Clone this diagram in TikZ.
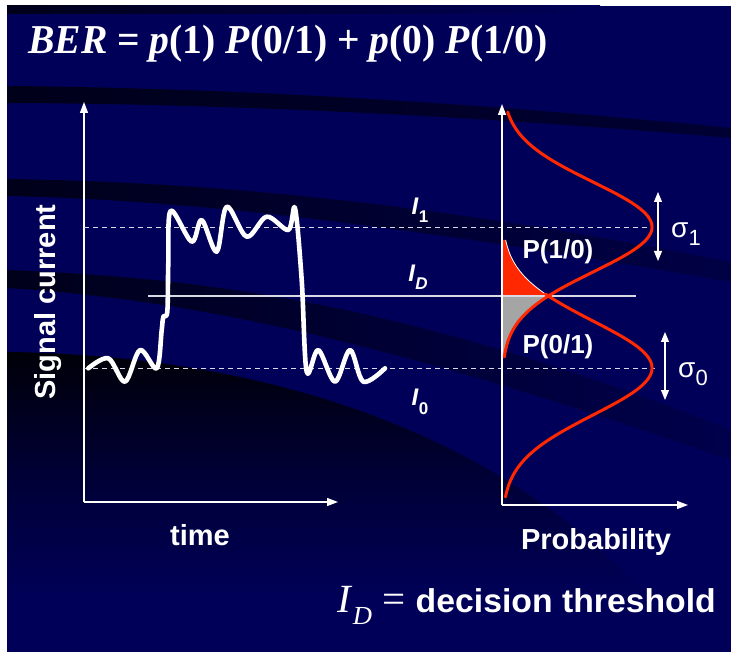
\documentclass[tikz,border=0pt]{standalone}
\usepackage{fontspec}
\usepackage{graphicx}
\setmainfont{Liberation Serif}
\setsansfont{Liberation Sans}
\usetikzlibrary{arrows.meta}
\definecolor{navy}{RGB}{0,0,88}
\definecolor{bandc}{RGB}{0,0,26}
\definecolor{curvered}{RGB}{255,40,0}
\definecolor{fillgray}{RGB}{165,165,165}
\tikzset{
  axis/.style={white, line width=1.3pt, -{Triangle[length=11pt,width=8pt]}},
  levelline/.style={white!85!navy, line width=0.9pt, dash pattern=on 5pt off 4pt},
  thresh/.style={white!85!navy, line width=1.3pt},
  sigarrow/.style={white, line width=1.1pt, {Triangle[length=10pt,width=8pt]}-{Triangle[length=10pt,width=8pt]}},
  gauss/.style={curvered, line width=3pt, line cap=round},
  lbl/.style={white, font=\sffamily\bfseries\fontsize{29}{34}\selectfont, inner sep=0pt},
  plbl/.style={white, font=\sffamily\bfseries\fontsize{26}{30}\selectfont, inner sep=0pt},
  ilbl/.style={white, font=\sffamily\bfseries\fontsize{24}{28}\selectfont, inner sep=0pt},
  slbl/.style={white, font=\sffamily\fontsize{28}{32}\selectfont, inner sep=0pt},
}
\newcommand{\sub}[2]{#1\raisebox{-0.35em}{\fontsize{17}{20}\selectfont #2}}
\newcommand{\sigsub}[2]{#1\raisebox{-0.3em}{\fontsize{22}{24}\selectfont #2}}
\begin{document}
\begin{tikzpicture}[x=1pt,y=-1pt]
\useasboundingbox (0,0) rectangle (731,652);
\fill[white] (0,0) rectangle (731,652);
\fill[navy] (7,6) rectangle (731,652);
% background decoration
\begin{scope}
\clip (7,6) rectangle (731,652);
\shade[left color=bandc, right color=navy] (7,6) rectangle (600,14);
\shade[left color=bandc, right color=navy!40!bandc] (7,86) .. controls (250,88) and (500,105) .. (731,128) -- (731,138) .. controls (500,118) and (250,104) .. (7,103) -- cycle;
\shade[left color=bandc, right color=navy!70!bandc] (7,179) .. controls (200,182) and (420,200) .. (731,262) -- (731,282) .. controls (420,228) and (200,200) .. (7,196) -- cycle;
\shade[left color=bandc, right color=navy!80!bandc] (7,270) .. controls (200,278) and (400,300) .. (731,430) -- (731,460) .. controls (400,345) and (200,300) .. (7,288) -- cycle;
\shade[top color=black!70!bandc, bottom color=navy, middle color=navy!45!bandc] (7,352) .. controls (260,355) and (500,430) .. (650,600) -- (7,600) -- cycle;
\end{scope}
% title
\node[white, anchor=base west, inner sep=0pt, font=\bfseries\fontsize{41}{48}\selectfont] (title) at (28,54)
  {\resizebox{519pt}{\height}{\textit{BER} = \textit{p}(1) \textit{P}(0/1) + \textit{p}(0) \textit{P}(1/0)}};
% left axes
\coordinate (o1) at (84,502);
\coordinate (y1) at (84,102);
\coordinate (x1) at (338,502);
\draw[axis] (o1) -- (y1);
\draw[axis] (o1) -- (x1);
% right axes
\coordinate (o2) at (502,505);
\coordinate (y2) at (502,104);
\coordinate (x2) at (688,505);
% fills
\fill[curvered] (502,240) -- plot[domain=240:296, samples=40] ({502+150*exp(-0.5*((\x-368)/47)^2)}, \x) -- (502,296) -- cycle;
\draw[white, line width=0.8pt] plot[domain=240:296, samples=40] ({502+150*exp(-0.5*((\x-368)/47)^2)}, \x);
\fill[fillgray] (502,296) -- plot[domain=296:357, samples=40] ({502+150*exp(-0.5*((\x-227)/45)^2)}, \x) -- (502,357) -- cycle;
% level lines
\coordinate (l1a) at (84,227); \coordinate (l1b) at (652,227);
\coordinate (l0a) at (84,368); \coordinate (l0b) at (655,368);
\coordinate (lda) at (148,296); \coordinate (ldb) at (636,296);
\draw[levelline] (l1a) -- (l1b);
\draw[levelline] (l0a) -- (l0b);
\draw[thresh] (lda) -- (ldb);
\draw[axis] (o2) -- (y2);
\draw[axis] (o2) -- (x2);
% gaussians
\draw[gauss] plot[domain=112:357, samples=120] ({502+150*exp(-0.5*((\x-227)/45)^2)}, \x);
\draw[gauss] plot[domain=294:497, samples=120] ({502+150*exp(-0.5*((\x-368)/47)^2)}, \x);
% waveform
\draw[white, line width=4.6pt, line join=round, line cap=round] plot[smooth, tension=0.55] coordinates {
 (88.3,368.3) (108.3,358.3) (125,381.7) (140,350) (156.7,368.3)
 (161.7,330) (163.3,316.7) (167.3,311.7) (168.3,263.3) (170.7,210.7)
 (191.7,241.7) (201.7,220) (216.7,251.7) (226.7,206.7) (246.7,236.7)
 (266.7,216.7) (288.3,230) (295,208.3) (301.7,280) (306.7,371.7)
 (318.3,350) (335,381.7) (350,350) (363.3,381.7) (385,368.3)};
% sigma arrows
\coordinate (s1a) at (658,192); \coordinate (s1b) at (658,261);
\coordinate (s0a) at (665,332); \coordinate (s0b) at (665,400);
\draw[sigarrow] (s1a) -- (s1b);
\draw[sigarrow] (s0a) -- (s0b);
% labels
\node[slbl] (sig1) at (686,234) {\sigsub{σ}{1}};
\node[slbl] (sig0) at (693,374) {\sigsub{σ}{0}};
\node[ilbl] (i1) at (420,210) {\sub{\textit{I}}{1}};
\node[ilbl] (id) at (418,277) {\sub{\textit{I}}{\textit{D}}};
\node[ilbl] (i0) at (420,402) {\sub{\textit{I}}{0}};
\node[plbl] (p10) at (558,252) {P(1/0)};
\node[plbl] (p01) at (558,347) {P(0/1)};
\node[lbl, rotate=90] (sc) at (48,302) {Signal current};
\node[lbl] (time) at (200,535) {time};
\node[lbl] (prob) at (596,542) {Probability};
\node[white, anchor=base east, inner sep=0pt] (thr) at (716,612)
  {\resizebox{378pt}{\height}{{\fontsize{40}{44}\selectfont\textit{I}\raisebox{-0.3em}{\fontsize{26}{28}\selectfont\textit{D}} = }{\sffamily\bfseries\fontsize{33}{38}\selectfont decision threshold}}};
\end{tikzpicture}
\end{document}
